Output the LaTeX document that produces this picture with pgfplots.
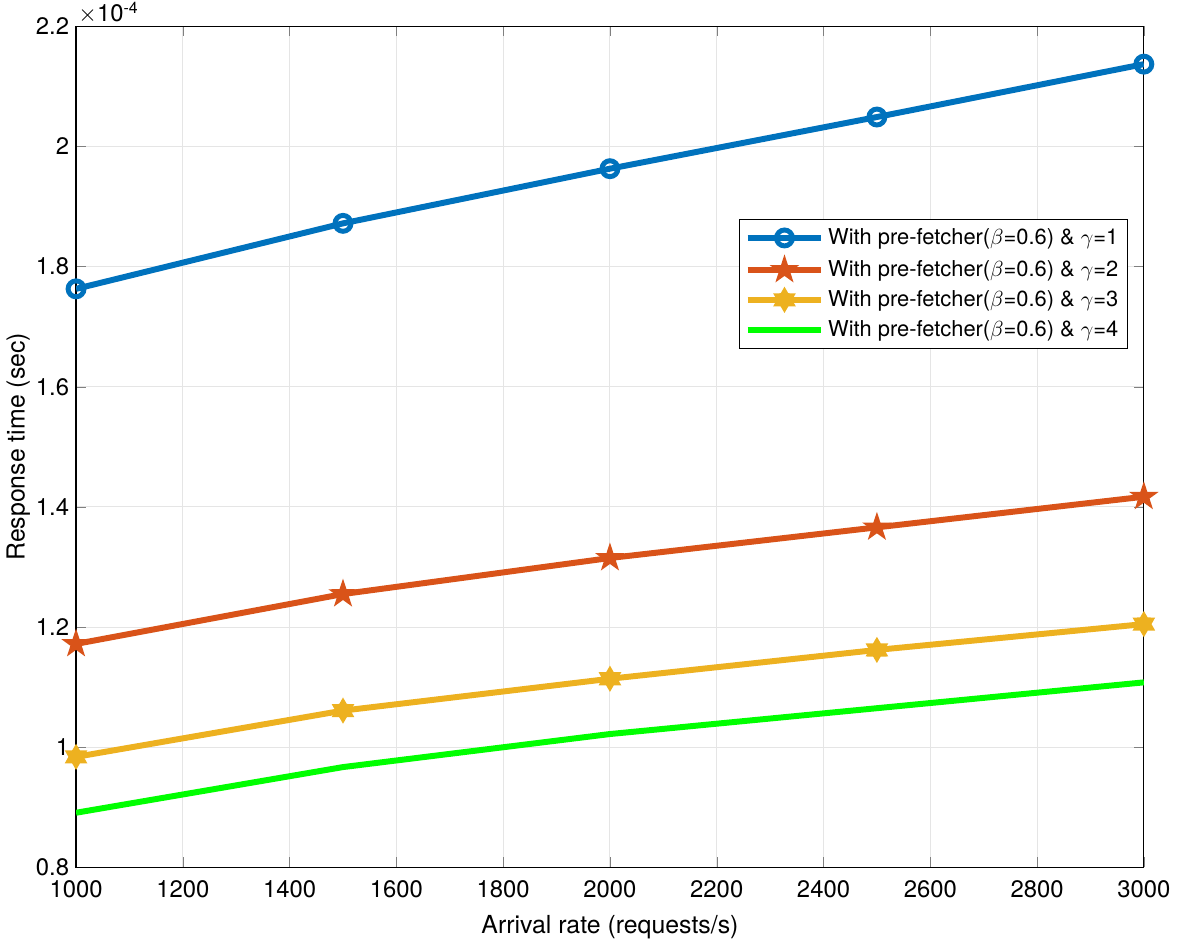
\documentclass[border=0pt]{standalone}
\usepackage{pgfplots}
\pgfplotsset{compat=1.18}
\usepackage{fontspec}
\setmainfont{TeX Gyre Heros}

\definecolor{mblue}{rgb}{0,0.447,0.741}
\definecolor{mred}{rgb}{0.85,0.325,0.098}
\definecolor{myellow}{rgb}{0.929,0.694,0.125}
\definecolor{mgreen}{rgb}{0,1,0}

% filled five- and six-pointed stars, like matlab's 'p' and 'h'
\pgfdeclareplotmark{pentagram}{%
  \pgfpathmoveto{\pgfpointpolar{90}{1.3\pgfplotmarksize}}%
  \pgfpathlineto{\pgfpointpolar{126}{0.5\pgfplotmarksize}}%
  \pgfpathlineto{\pgfpointpolar{162}{1.3\pgfplotmarksize}}%
  \pgfpathlineto{\pgfpointpolar{198}{0.5\pgfplotmarksize}}%
  \pgfpathlineto{\pgfpointpolar{234}{1.3\pgfplotmarksize}}%
  \pgfpathlineto{\pgfpointpolar{270}{0.5\pgfplotmarksize}}%
  \pgfpathlineto{\pgfpointpolar{306}{1.3\pgfplotmarksize}}%
  \pgfpathlineto{\pgfpointpolar{342}{0.5\pgfplotmarksize}}%
  \pgfpathlineto{\pgfpointpolar{18}{1.3\pgfplotmarksize}}%
  \pgfpathlineto{\pgfpointpolar{54}{0.5\pgfplotmarksize}}%
  \pgfpathclose
  \pgfusepathqfill
}
\pgfdeclareplotmark{hexagram}{%
  \pgfpathmoveto{\pgfpointpolar{90}{1.1\pgfplotmarksize}}%
  \pgfpathlineto{\pgfpointpolar{120}{0.64\pgfplotmarksize}}%
  \pgfpathlineto{\pgfpointpolar{150}{1.1\pgfplotmarksize}}%
  \pgfpathlineto{\pgfpointpolar{180}{0.64\pgfplotmarksize}}%
  \pgfpathlineto{\pgfpointpolar{210}{1.1\pgfplotmarksize}}%
  \pgfpathlineto{\pgfpointpolar{240}{0.64\pgfplotmarksize}}%
  \pgfpathlineto{\pgfpointpolar{270}{1.1\pgfplotmarksize}}%
  \pgfpathlineto{\pgfpointpolar{300}{0.64\pgfplotmarksize}}%
  \pgfpathlineto{\pgfpointpolar{330}{1.1\pgfplotmarksize}}%
  \pgfpathlineto{\pgfpointpolar{0}{0.64\pgfplotmarksize}}%
  \pgfpathlineto{\pgfpointpolar{30}{1.1\pgfplotmarksize}}%
  \pgfpathlineto{\pgfpointpolar{60}{0.64\pgfplotmarksize}}%
  \pgfpathclose
  \pgfusepathqfill
}

\begin{document}
\begin{tikzpicture}
\begin{axis}[
    name=ax,
    scale only axis,
    width=537pt, height=423pt,
    xmin=1000, xmax=3000,
    ymin=0.8, ymax=2.2,
    xtick={1000,1200,...,3000},
    ytick={0.8,1,1.2,1.4,1.6,1.8,2,2.2},
    yticklabels={0.8,1,1.2,1.4,1.6,1.8,2,2.2},
    /pgf/number format/assume math mode=true,
    /pgf/number format/1000 sep={},
    tick label style={font=\fontsize{12}{14}\selectfont},
    xticklabel style={yshift=-3pt},
    label style={font=\fontsize{12.5}{14}\selectfont},
    xlabel={Arrival rate (requests/s)},
    ylabel={Response time (sec)},
    xlabel style={yshift=-2pt},
    ylabel style={yshift=-4pt},
    tick align=inside,
    tick pos=both,
    major tick length=5pt,
    grid=major,
    grid style={color=black!10, line width=0.5pt},
    axis line style={line width=0.6pt},
    legend style={at={(0.621,0.771)}, anchor=north west,
        font=\fontsize{11}{12}\selectfont,
        draw=black, line width=0.6pt, inner sep=2.5pt,
        row sep=1.5pt},
    legend cell align=left,
    legend image code/.code={%
        \draw[mark repeat=2,mark phase=2]
        plot coordinates {(0cm,0cm) (0.65cm,0cm) (1.3cm,0cm)};},
]
\addplot[color=mblue, line width=3pt, mark=o, mark size=4pt,
    mark options={line width=2.5pt}] coordinates {
    (1000,1.763) (1500,1.872) (2000,1.963) (2500,2.049) (3000,2.137)
};
\addlegendentry{With pre-fetcher($\beta$=0.6) \& $\gamma$=1}
\addplot[color=mred, line width=3pt, mark=pentagram, mark size=6pt] coordinates {
    (1000,1.172) (1500,1.255) (2000,1.315) (2500,1.366) (3000,1.417)
};
\addlegendentry{With pre-fetcher($\beta$=0.6) \& $\gamma$=2}
\addplot[color=myellow, line width=3pt, mark=hexagram, mark size=6pt] coordinates {
    (1000,0.984) (1500,1.061) (2000,1.114) (2500,1.162) (3000,1.205)
};
\addlegendentry{With pre-fetcher($\beta$=0.6) \& $\gamma$=3}
\addplot[color=mgreen, line width=3pt] coordinates {
    (1000,0.891) (1500,0.967) (2000,1.022) (2500,1.065) (3000,1.108)
};
\addlegendentry{With pre-fetcher($\beta$=0.6) \& $\gamma$=4}
\end{axis}
\node[anchor=south west, inner sep=1pt, font=\fontsize{12}{14}\selectfont]
    at (ax.north west) {$\times$10\textsuperscript{-4}};
\end{tikzpicture}
\end{document}
